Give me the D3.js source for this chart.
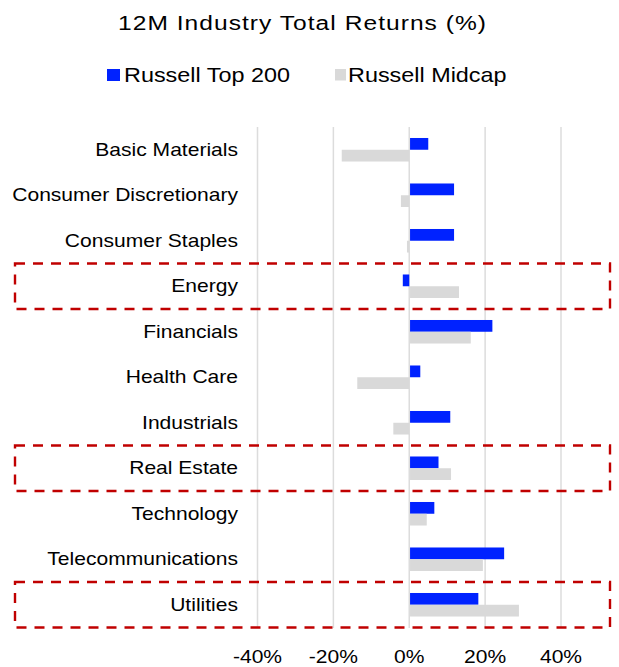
<!DOCTYPE html>
<html>
<head>
  <meta charset="utf-8">
  <title>12M Industry Total Returns</title>
  <style>
    body{ margin:0; background:#fff; }
    text{ font-family: "Liberation Sans", Arial, sans-serif; fill:#000; }
  </style>
  <script src="https://d3js.org/d3.v7.min.js"></script>
</head>
<body>
  <script>
    // data
    var categories = ["Basic Materials","Consumer Discretionary","Consumer Staples","Energy","Financials",
      "Health Care","Industrials","Real Estate","Technology","Telecommunications","Utilities"];
    var seriesNames = ["Russell Top 200","Russell Midcap"];
    var top200 = [4.8, 11.6, 11.6, -1.7, 21.7, 2.7, 10.6, 7.5, 6.4, 24.8, 18.0];
    var midcap = [-17.8, -2.2, -0.6, 12.9, 16.0, -13.7, -4.2, 10.8, 4.4, 19.2, 28.7];
    var tickValues = [-40, -20, 0, 20, 40];
    var highlighted = ["Energy","Real Estate","Utilities"];

    var colors = ["#0022ff","#d9d9d9"];
    var sx = 1.17; // text in the picture is stretched sideways

    var width = 619, height = 667;
    var svg = d3.select('body').append('svg')
      .attr('width', width).attr('height', height);

    var rows = categories.map(function(c, i){
      return {name: c, values: [top200[i], midcap[i]]};
    });

    var x = d3.scaleLinear().domain([-40, 40]).range([257.5, 561]);
    var y0 = d3.scaleBand().domain(categories).range([127, 627.5])
      .paddingInner(0.483).paddingOuter(0.2415);
    var y1 = d3.scaleBand().domain(seriesNames).range([0, y0.bandwidth()]);
    var gap = (y0.step() - y0.bandwidth()) / 2;

    // stretched text helper
    function label(parent, tx, ty, str, size, anchor){
      return parent.append('text')
        .attr('transform', 'translate(' + tx + ',' + ty + ') scale(' + sx + ',1)')
        .attr('text-anchor', anchor)
        .style('font-size', size + 'px')
        .text(str);
    }

    // title
    label(svg, 302, 30, "12M Industry Total Returns (%)", 21, 'middle')
      .attr('textLength', 368 / sx).attr('lengthAdjust', 'spacing');

    // legend
    var legendX = [107, 335];
    seriesNames.forEach(function(s, i){
      svg.append('rect')
        .attr('x', legendX[i]).attr('y', 69)
        .attr('width', i == 0 ? 13 : 11).attr('height', i == 0 ? 12 : 11.5)
        .attr('fill', colors[i]);
      label(svg, legendX[i] + (i == 0 ? 17 : 13), 82, s, 20, 'start');
    });

    // gridlines
    svg.append('g').selectAll('line')
      .data(tickValues).enter().append('line')
      .attr('x1', d => x(d)).attr('x2', d => x(d))
      .attr('y1', 127).attr('y2', 628)
      .attr('stroke', '#dcdcdc').attr('stroke-width', 1.5);

    // tick labels (plain hyphen, like the source)
    var ticks = svg.append('g');
    tickValues.forEach(function(t){
      label(ticks, x(t), 663, String(t) + '%', 18, 'middle');
    });

    // bars
    var groups = svg.append('g').selectAll('g')
      .data(rows).enter().append('g')
      .attr('transform', d => 'translate(0,' + y0(d.name) + ')');
    groups.selectAll('rect')
      .data(d => d.values.map((v, i) => ({series: seriesNames[i], value: v, i: i})))
      .enter().append('rect')
      .attr('x', d => x(Math.min(0, d.value)) + (d.value > 0 ? 0.8 : 0))
      .attr('width', d => Math.abs(x(d.value) - x(0)))
      .attr('y', d => y1(d.series))
      .attr('height', y1.bandwidth())
      .attr('fill', d => colors[d.i]);

    // category labels
    var cats = svg.append('g');
    categories.forEach(function(c){
      label(cats, 238, y0(c) + y0.bandwidth() / 2 + 6, c, 18, 'end');
    });

    // dashed highlight boxes
    svg.append('g').selectAll('rect')
      .data(highlighted).enter().append('rect')
      .attr('x', 15).attr('width', 595)
      .attr('y', d => y0(d) - gap)
      .attr('height', y0.step())
      .attr('fill', 'none')
      .attr('stroke', '#c00000')
      .attr('stroke-width', 2.4)
      .attr('stroke-dasharray', '10,8');
  </script>
</body>
</html>
